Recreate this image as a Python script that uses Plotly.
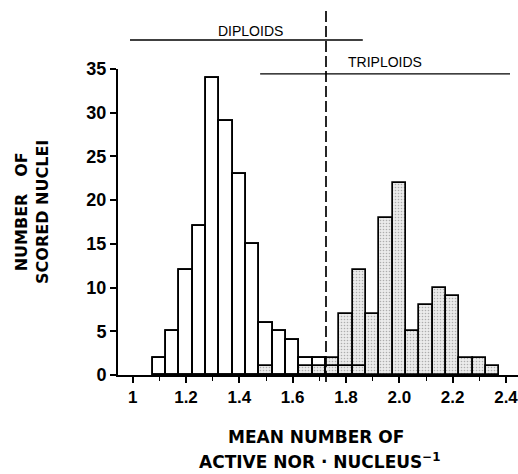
import plotly.graph_objects as go

# ---- data ----
bin_centers = [1.10, 1.15, 1.20, 1.25, 1.30, 1.35, 1.40, 1.45, 1.50, 1.55,
               1.60, 1.65, 1.70, 1.75, 1.80, 1.85, 1.90, 1.95, 2.00, 2.05,
               2.10, 2.15, 2.20, 2.25, 2.30, 2.35]
diploids = [2, 5, 12, 17, 34, 29, 23, 15, 6, 5,
            4, 2, 2, 1, 1, 1, 0, 0, 0, 0,
            0, 0, 0, 0, 0, 0]
triploids = [0, 0, 0, 0, 0, 0, 0, 0, 1, 0,
             0, 1, 1, 2, 7, 12, 7, 18, 22, 5,
             8, 10, 9, 2, 2, 1]
bin_width = 0.05

x_tick_vals = [1.0, 1.2, 1.4, 1.6, 1.8, 2.0, 2.2, 2.4]
x_tick_text = ["1", "1.2", "1.4", "1.6", "1.8", "2.0", "2.2", "2.4"]
x_minor_vals = [1.1, 1.3, 1.5, 1.7, 1.9, 2.1, 2.3]
y_tick_vals = [0, 5, 10, 15, 20, 25, 30, 35]

group_names = ["DIPLOIDS", "TRIPLOIDS"]
group_label_x = [1.44, 1.946]
group_range_start = [0.99, 1.478]
group_range_end = [1.863, 2.415]
cutoff = 1.725

X_MIN, X_MAX = 0.945, 2.445
Y_MIN, Y_MAX = 0, 35


def xp(v):
    return (v - X_MIN) / (X_MAX - X_MIN)


def nz(vals):
    # empty bins are not drawn as bars
    return [v if v else None for v in vals]


fig = go.Figure()

# diploids, white filled
fig.add_trace(go.Bar(
    x=bin_centers, y=nz(diploids), width=bin_width,
    marker=dict(color="white", line=dict(color="black", width=1.7)),
    showlegend=False, hoverinfo="skip"))

# triploids, stippled
fig.add_trace(go.Bar(
    x=bin_centers, y=nz(triploids), width=bin_width,
    marker=dict(color="#e0e0e0",
                pattern=dict(shape=".", fgcolor="#707070", bgcolor="#ebebeb",
                             size=3, solidity=0.22),
                line=dict(color="black", width=1.7)),
    showlegend=False, hoverinfo="skip"))

# diploid outlines on top
fig.add_trace(go.Bar(
    x=bin_centers, y=nz(diploids), width=bin_width,
    marker=dict(color="rgba(0,0,0,0)", line=dict(color="black", width=1.7)),
    showlegend=False, hoverinfo="skip"))

tickfont = dict(family="Liberation Sans, Arial, sans-serif", size=17,
                color="black", weight="bold")
titlefont = dict(family="DejaVu Sans, sans-serif", size=16, color="black",
                 weight="bold")

fig.update_layout(
    width=518, height=474,
    margin=dict(l=118, r=0, t=69, b=99, autoexpand=False),
    plot_bgcolor="white", paper_bgcolor="white",
    barmode="overlay", bargap=0,
    xaxis=dict(range=[X_MIN, X_MAX], tickvals=x_tick_vals, ticktext=x_tick_text,
               ticks="outside", ticklen=6, tickwidth=1.5, tickcolor="black",
               minor=dict(tickvals=x_minor_vals, ticks="outside", ticklen=4,
                          tickwidth=1.2, tickcolor="black"),
               showline=True, linecolor="black", linewidth=2, automargin=False,
               ticklabeloverflow="allow",
               showgrid=False, zeroline=False, tickfont=tickfont),
    yaxis=dict(range=[Y_MIN, Y_MAX], tickvals=y_tick_vals,
               ticks="outside", ticklen=6, tickwidth=1.5, tickcolor="black",
               showline=True, linecolor="black", linewidth=2, automargin=False,
               ticklabeloverflow="allow",
               showgrid=False, zeroline=False,
               tickfont=dict(tickfont, size=18)),
)

# group range lines and labels
label_y = [1.124, 1.023]
line_y = [1.095, 0.984]
for name, lx, x0, x1, ly, liy in zip(group_names, group_label_x, group_range_start,
                                     group_range_end, label_y, line_y):
    fig.add_shape(type="line", xref="paper", yref="paper",
                  x0=xp(x0), x1=xp(x1), y0=liy, y1=liy,
                  line=dict(color="black", width=1.4))
    fig.add_annotation(xref="paper", yref="paper", x=xp(lx), y=ly,
                       text=name, showarrow=False, xanchor="center", yanchor="middle",
                       font=dict(family="Liberation Sans, Arial, sans-serif", size=14,
                                 color="black"))

# cutoff dashed line
fig.add_shape(type="line", xref="paper", yref="paper",
              x0=xp(cutoff), x1=xp(cutoff), y0=-0.023, y1=1.203,
              line=dict(color="black", width=1.7, dash="11px,4px"))

# axis titles
fig.add_annotation(xref="paper", yref="paper", x=-0.215, y=0.533,
                   text="NUMBER\u00a0\u00a0\u00a0OF<br>SCORED NUCLEI", textangle=-90,
                   showarrow=False, xanchor="center", yanchor="middle",
                   align="center", font=titlefont)
fig.add_annotation(xref="paper", yref="paper", x=0.495, y=-0.203,
                   text="MEAN NUMBER OF", showarrow=False,
                   xanchor="center", yanchor="middle", font=dict(titlefont, size=17))
fig.add_annotation(xref="paper", yref="paper", x=0.505, y=-0.281,
                   text="ACTIVE NOR \u00b7 NUCLEUS<sup>\u22121</sup>", showarrow=False,
                   xanchor="center", yanchor="middle", font=dict(titlefont, size=17))

fig.write_html("out.html", config={"displayModeBar": False},
               post_script="document.body.style.margin='0';document.body.style.overflow='hidden';")
